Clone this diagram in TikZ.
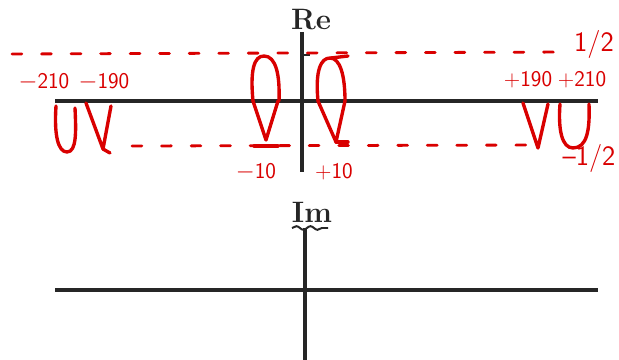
\documentclass[tikz,border=0pt]{standalone}
\usepackage{fontspec}
\usetikzlibrary{decorations.pathmorphing}

\tikzset{
  axis/.style={line width=2.2pt, black!85},
  pen/.style={red!85!black, line width=2.4pt, line cap=round, line join=round},
  halfline/.style={red!85!black, line width=2pt, line cap=round, dash pattern=on 7pt off 14pt},
  marklabel/.style={red!85!black, font=\sffamily\fontsize{16}{18}\selectfont, inner sep=0pt},
  halflabel/.style={red!85!black, font=\sffamily\fontsize{20}{22}\selectfont, inner sep=0pt},
  axislabel/.style={black!85, font=\bfseries\fontsize{21}{24}\selectfont, inner sep=0pt}
}

\begin{document}
\begin{tikzpicture}[x=0.025cm, y=-0.025cm]
\useasboundingbox (0,0) rectangle (619,360);

% upper plot (real part)
\coordinate (reL) at (55,101);
\coordinate (reR) at (598,101);
\coordinate (reT) at (302,32);
\coordinate (reB) at (302,172);
\draw[axis] (reL) -- (reR);
\draw[axis] (reT) -- (reB);
\draw[axis, line width=1.4pt] (302,55) -- (310,55);
\node[axislabel] (re) at (311,20) {Re};

% levels +1/2 and -1/2
\draw[halfline] (12,54) -- (572,52);
\draw[halfline] (132,146) -- (545,145);
\node[halflabel] (ph) at (594,44) {1/2};
\node[halflabel] (mh) at (589,158) {\textendash1/2};

% lobes near -200
\draw[pen] (56,106) .. controls (54,135) and (58,152) .. (67,152) .. controls (77,152) and (76,130) .. (75,108);
\draw[pen] (86,103) -- (103,149) -- (111,106);
\draw[pen] (103,149) -- (110,153);

% lobes near -10
\draw[pen] (253,101) .. controls (250,70) and (254,56) .. (264,56) .. controls (276,56) and (280,75) .. (279,101);
\draw[pen] (253,101) -- (266,140) -- (278,101);
\draw[pen] (254,146) -- (278,146);

% lobes near +10
\draw[pen] (318,101) .. controls (315,70) and (321,58) .. (330,58) .. controls (340,58) and (345,75) .. (345,101);
\draw[pen] (331,58) -- (348,56);
\draw[pen] (318,101) -- (336,142) -- (345,101);
\draw[pen] (336,142) -- (348,142);

% lobes near +200
\draw[pen] (523,103) -- (538,148) -- (548,104);
\draw[pen] (560,104) .. controls (558,130) and (562,148) .. (573,148) .. controls (587,148) and (590,130) .. (589,104);

% frequency labels
\node[marklabel] (m210) at (44,82) {$-$210};
\node[marklabel] (m190) at (104,82) {$-$190};
\node[marklabel] (p190) at (528,80) {+190};
\node[marklabel] (p210) at (582,80) {+210};
\node[marklabel] (m10) at (256,172) {$-$10};
\node[marklabel] (p10) at (334,172) {+10};

% lower plot (imaginary part)
\coordinate (imL) at (55,290);
\coordinate (imR) at (598,290);
\coordinate (imT) at (305,228);
\coordinate (imB) at (305,360);
\draw[axis] (imL) -- (imR);
\draw[axis] (imT) -- (imB);
\node[axislabel] (im) at (312,212) {Im};
\draw[axis, line width=1.4pt, decorate, decoration={snake, amplitude=1.3pt, segment length=10pt}] (292,228) -- (328,228);

\end{tikzpicture}
\end{document}
